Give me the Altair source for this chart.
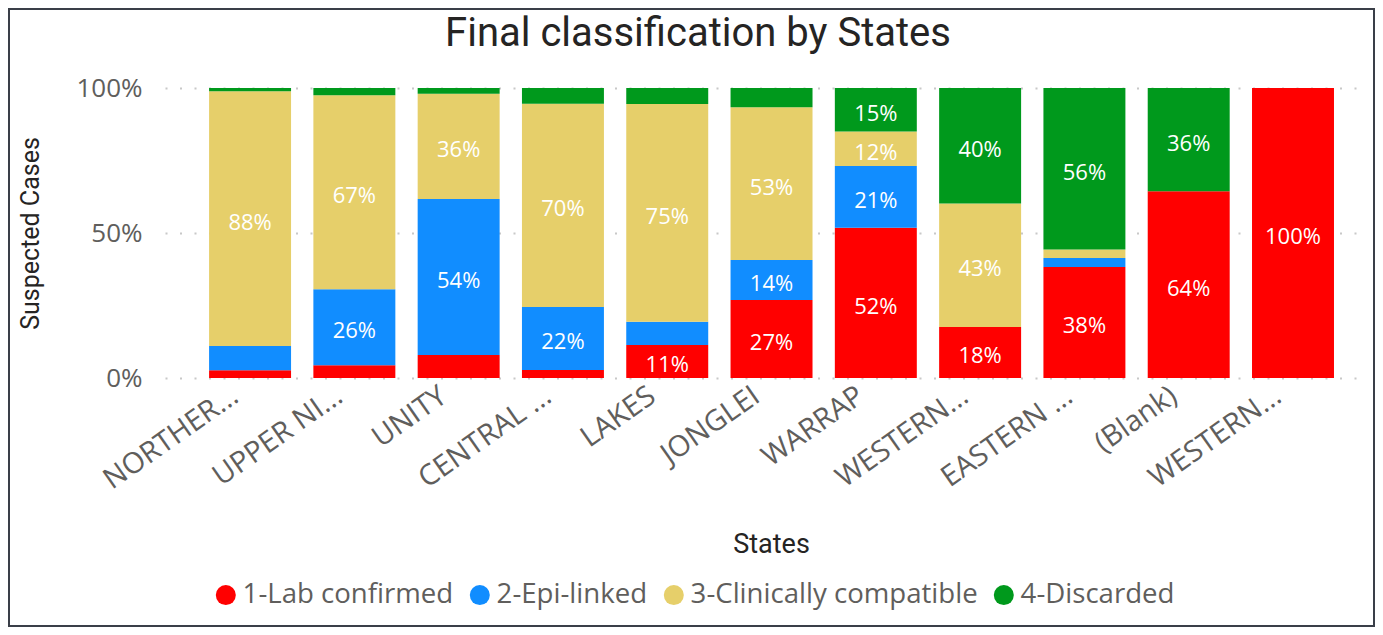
import altair as alt
import pandas as pd

states = ["NORTHERN BAHR EL GHAZAL", "UPPER NILE", "UNITY", "CENTRAL EQUATORIA", "LAKES",
          "JONGLEI", "WARRAP", "WESTERN BAHR EL GHAZAL", "EASTERN EQUATORIA", "(Blank)",
          "WESTERN EQUATORIA"]
state_labels = ["NORTHER...", "UPPER NI...", "UNITY", "CENTRAL ...", "LAKES", "JONGLEI",
                "WARRAP", "WESTERN...", "EASTERN ...", "(Blank)", "WESTERN..."]

classes = ["1-Lab confirmed", "2-Epi-linked", "3-Clinically compatible", "4-Discarded"]
colors = ["#FF0000", "#118DFF", "#E6CF6A", "#00991C"]

lab_confirmed = [2.7, 4.4, 7.9, 2.8, 11.4, 26.9, 51.8, 17.6, 38.3, 64.4, 100.0]
epi_linked = [8.3, 26.2, 53.8, 21.7, 8.0, 13.8, 21.3, 0.0, 3.1, 0.0, 0.0]
clinically_compatible = [87.9, 66.9, 36.3, 70.1, 75.1, 52.7, 11.9, 42.6, 2.9, 0.0, 0.0]
discarded = [1.1, 2.5, 2.0, 5.4, 5.5, 6.6, 15.0, 39.8, 55.7, 35.6, 0.0]

series = [lab_confirmed, epi_linked, clinically_compatible, discarded]
rows = []
for ci, (cls, vals) in enumerate(zip(classes, series)):
    for s, v in zip(states, vals):
        if v > 0:
            rows.append({"state": s, "cls": cls, "order": ci, "value": v})
df = pd.DataFrame(rows)

label_expr = ""
for s, l in zip(states, state_labels):
    label_expr += f"datum.value == '{s}' ? '{l}' : "
label_expr += "datum.value"

SEGOE = "Open Sans"
DIN = "Roboto"

x_enc = alt.X("state:N", sort=states,
              scale=alt.Scale(paddingInner=0.214, paddingOuter=0.36, align=0.587),
              axis=alt.Axis(title="States", labelExpr=label_expr, labelAngle=-35,
                            labelAlign="right", labelBaseline="top",
                            labelFont=SEGOE, labelFontSize=29, labelColor="#605E5C",
                            labelPadding=3, labelOffset=-23, labelLimit=400,
                            domain=False, ticks=False,
                            titleFont=DIN, titleFontSize=27, titleColor="#252423",
                            titleFontWeight="normal", titleY=153, titleX=606))

base = alt.Chart(df).transform_stack(
    stack="value", groupby=["state"], as_=["y0", "y1"],
    sort=[alt.SortField("order", order="ascending")], offset="normalize"
).transform_calculate(
    mid="(datum.y0 + datum.y1) / 2", share="datum.y1 - datum.y0"
)

bars = base.mark_bar().encode(
    x=x_enc,
    y=alt.Y("y0:Q", scale=alt.Scale(domain=[0, 1]),
            axis=alt.Axis(title="Suspected Cases", values=[0, 0.5, 1], format=".0%",
                          labelFont=SEGOE, labelFontSize=26, labelColor="#605E5C",
                          labelPadding=23, domain=False, ticks=False,
                          gridColor="#C8C8C8", gridDash=[2, 12.5], gridWidth=2,
                          titleFont=DIN, titleFontSize=25, titleColor="#252423",
                          titleFontWeight="normal", titlePadding=32)),
    y2="y1:Q",
    color=alt.Color("cls:N", scale=alt.Scale(domain=classes, range=colors),
                    legend=alt.Legend(title=None, orient="none", direction="horizontal",
                                      legendX=47, legendY=493, symbolType="circle",
                                      symbolSize=400, symbolStrokeWidth=0,
                                      labelFont=SEGOE, labelFontSize=27.6, labelLimit=500,
                                      labelColor="#605E5C", labelOffset=3,
                                      columnPadding=12, padding=0)),
)

labels = base.transform_filter("datum.share >= 0.1").mark_text(
    color="white", font=SEGOE, fontSize=22, dy=4
).encode(
    x=alt.X("state:N", sort=states),
    y=alt.Y("mid:Q"),
    text=alt.Text("share:Q", format=".0%"),
)

frame = alt.Chart(pd.DataFrame({"a": [0]})).mark_rect(
    filled=False, stroke="#3A3F48", strokeWidth=2
).encode(x=alt.value(-156), x2=alt.value(1209), y=alt.value(-79), y2=alt.value(538))

chart = alt.layer(bars, labels, frame).properties(
    width=1200, height=290,
    padding={"left": 157, "top": 80, "right": 10, "bottom": 249},
    autosize=alt.AutoSizeParams(type="none"),
    title=alt.TitleParams("Final classification by States", font=DIN, fontSize=40,
                          fontWeight="normal", color="#252423", anchor="middle",
                          dx=-67, offset=0, dy=46),
).configure_view(stroke=None)

chart.save("out.html", embed_options={"renderer": "svg", "actions": False})
